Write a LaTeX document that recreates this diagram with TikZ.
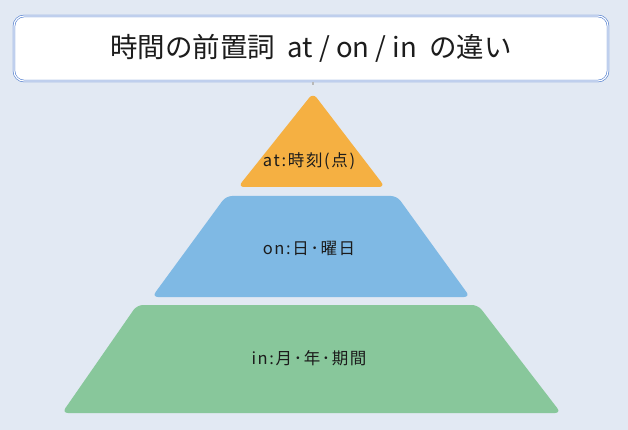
\documentclass[tikz,border=0pt]{standalone}
\usepackage{fontspec}
\setmainfont{Noto Sans CJK JP}
\newfontfamily\lblfont[LetterSpace=10]{Noto Sans CJK JP}
\usetikzlibrary{calc}
\definecolor{bgcol}{HTML}{E2E9F3}
\definecolor{framecol}{HTML}{4A78CC}
\definecolor{atcol}{HTML}{F5B042}
\definecolor{oncol}{HTML}{7FB9E4}
\definecolor{incol}{HTML}{88C79B}
\definecolor{txtcol}{HTML}{1C1C1C}

\begin{document}
\begin{tikzpicture}[x=1pt,y=-1pt,
    titlebox/.style={draw=framecol,fill=white,double=white,double distance=1.2pt,line width=0.6pt,
        rounded corners=10pt,minimum width=594pt,minimum height=65pt,inner sep=0pt,
        font=\fontsize{27.5}{32}\selectfont,text=txtcol},
    layer/.style={rounded corners=6pt},
    lbl/.style={font=\lblfont\fontsize{16.5}{20}\selectfont,text=txtcol,inner sep=0pt}]
    \fill[bgcol] (0,0) rectangle (628,430);
    \useasboundingbox (0,0) rectangle (628,430);

    \node[titlebox] (title) at (311,48.5) {時間の前置詞\ \ at / on / in\ \ の違い};
    \coordinate (stub) at ($(title.south)+(2,3.5)$);
    \draw[gray!55,line width=1.5pt] ($(title.south)+(2,0.5)$) -- (stub);

    % pyramid points
    \coordinate (A) at (313,93);
    \coordinate (B) at (238,187); \coordinate (C) at (385,187);
    \coordinate (D) at (226,196); \coordinate (E) at (397,196);
    \coordinate (F) at (470,297); \coordinate (G) at (152,297);
    \coordinate (H) at (137,305); \coordinate (I) at (478,305);
    \coordinate (J) at (561,413); \coordinate (K) at (62,413);

    \fill[atcol,layer] (A) -- (C) -- (B) -- cycle;
    \fill[oncol,layer] (D) -- (E) -- (F) -- (G) -- cycle;
    \fill[incol,layer] (H) -- (I) -- (J) -- (K) -- cycle;

    \node[lbl] (at) at (309,161) {at:時刻(点)};
    \node[lbl] (on) at (309,248) {on:日･曜日};
    \node[lbl] (in) at (309,358) {in:月･年･期間};
\end{tikzpicture}
\end{document}
